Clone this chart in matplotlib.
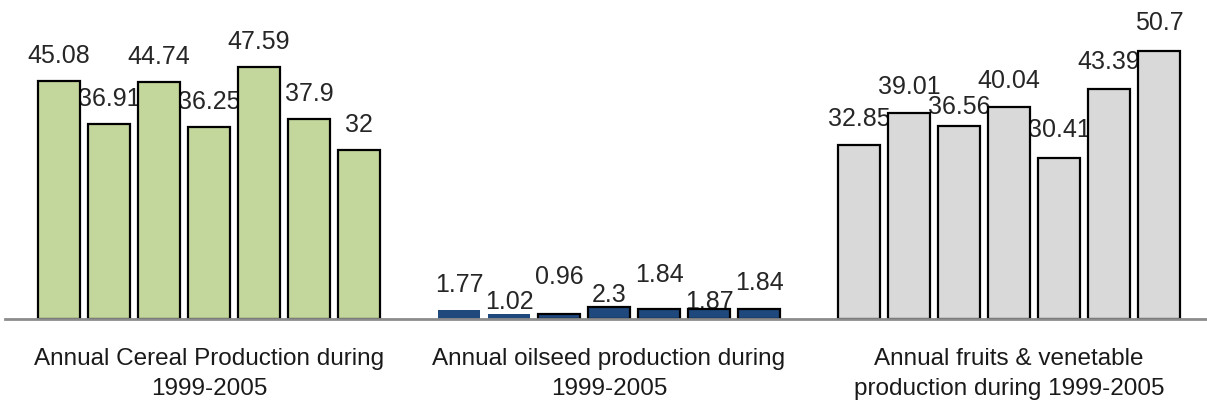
import matplotlib

matplotlib.use("Agg")

import matplotlib.pyplot as plt

plt.rcParams["font.family"] = ["Liberation Sans", "DejaVu Sans"]

groups = [
    "Annual Cereal Production during\n1999-2005",
    "Annual oilseed production during\n1999-2005",
    "Annual fruits & venetable\nproduction during 1999-2005",
]
cereal = [45.08, 36.91, 44.74, 36.25, 47.59, 37.9, 32]
oilseed = [1.77, 1.02, 0.96, 2.3, 1.84, 1.87, 1.84]
fruits = [32.85, 39.01, 36.56, 40.04, 30.41, 43.39, 50.7]
labels = [
    ["45.08", "36.91", "44.74", "36.25", "47.59", "37.9", "32"],
    ["1.77", "1.02", "0.96", "2.3", "1.84", "1.87", "1.84"],
    ["32.85", "39.01", "36.56", "40.04", "30.41", "43.39", "50.7"],
]

# styling: fill, edge per bar, label offsets (px above bar top)
FILLS = ["#C3D69B", "#1F497D", "#D9D9D9"]
EDGES = [
    ["black"] * 7,
    ["none", "none", "black", "black", "black", "black", "black"],
    ["black"] * 7,
]
OFFSETS = [
    [26, 26, 26, 26, 26, 26, 26],
    [26, 13, 38, 13, 35, 8, 27],
    [27, 27, 20, 27, 29, 28, 29],
]

fig = plt.figure(figsize=(12.07, 4.06), dpi=100)
ax = fig.add_axes([5 / 1207, 86 / 406, 1202 / 1207, 320 / 406])

series = [cereal, oilseed, fruits]
for g, vals in enumerate(series):
    xs = [g * 8 + i for i in range(len(vals))]
    ax.bar(
        xs,
        vals,
        width=0.84,
        color=FILLS[g],
        edgecolor=EDGES[g],
        linewidth=1.6,
        zorder=3,
    )
    for x, v, lab, off in zip(xs, vals, labels[g], OFFSETS[g]):
        ax.annotate(
            lab,
            (x, v),
            xytext=(0, off * 0.72),
            textcoords="offset points",
            ha="center",
            va="center",
            fontsize=18,
            color="#262626",
            zorder=1,
        )

ax.set_xlim(-1.08, 22.96)
ax.set_ylim(0, 60.5)
ax.set_xticks([3, 11, 19])
ax.set_xticklabels(groups, fontsize=17.5, color="#1a1a1a", linespacing=1.5)
ax.tick_params(axis="x", length=0, pad=20)
ax.set_yticks([])
for side in ["top", "left", "right"]:
    ax.spines[side].set_visible(False)
ax.spines["bottom"].set_color("#8c8c8c")
ax.spines["bottom"].set_linewidth(2)
ax.spines["bottom"].set_zorder(4)
ax.patch.set_alpha(0)

fig.savefig("out.png", dpi=100)
plt.close(fig)
